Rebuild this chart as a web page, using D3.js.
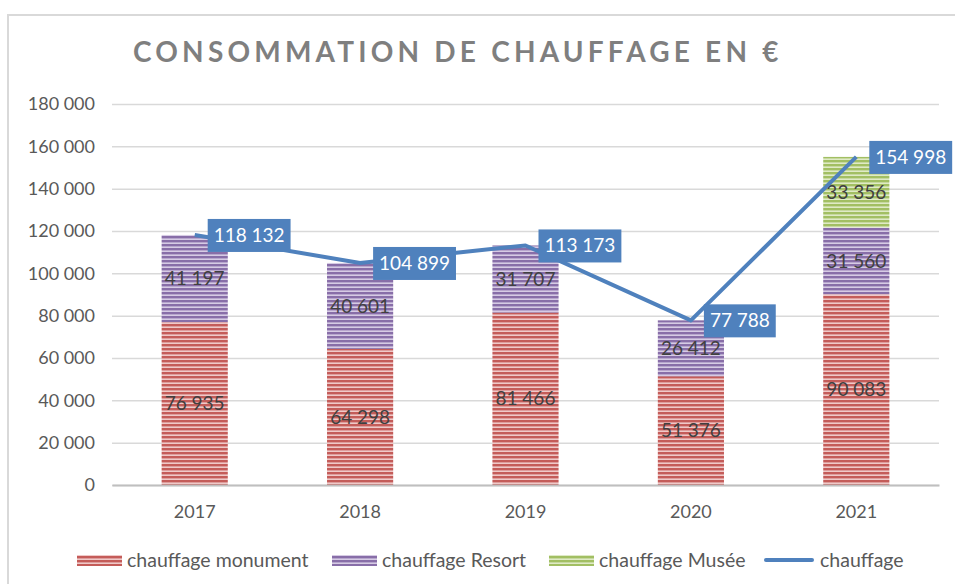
<!DOCTYPE html>
<html>
<head>
<meta charset="utf-8">
<script src="https://cdn.jsdelivr.net/npm/d3@7"></script>
<style>
  body { margin: 0; background: #fff; }
  svg { display: block; font-family: Lato, "Noto Sans", sans-serif; }
</style>
</head>
<body>
<div id="chart"></div>
<script>
// data
const years = ['2017', '2018', '2019', '2020', '2021'];
const monument = [76935, 64298, 81466, 51376, 90083];
const resort = [41197, 40601, 31707, 26412, 31560];
const musee = [0, 0, 0, 0, 33356];
const total = [118132, 104899, 113173, 77788, 154998];
const yTicks = [0, 20000, 40000, 60000, 80000, 100000, 120000, 140000, 160000, 180000];

const seriesNames = ['chauffage monument', 'chauffage Resort', 'chauffage Musée'];
const seriesKeys = ['monument', 'resort', 'musee'];

const width = 955, height = 584;
const margin = { top: 104, right: 15, bottom: 99, left: 112 };
const innerWidth = 939 - margin.left;
const innerHeight = 485 - margin.top;

const locale = d3.formatLocale({ decimal: ',', thousands: '\u202f', grouping: [3], currency: ['', ' €'] });
const fmt = locale.format(',d');

const rows = years.map((y, i) => ({ year: y, monument: monument[i], resort: resort[i], musee: musee[i], total: total[i] }));

const svg = d3.select('#chart').append('svg')
    .attr('width', width)
    .attr('height', height);

// striped fills like the Excel pattern
const fills = [
    { id: 'p-red', base: '#c0504d', light: '#efc9c8' },
    { id: 'p-purple', base: '#8064a2', light: '#d6cbe4' },
    { id: 'p-green', base: '#9bbb59', light: '#dfeac6' }
];
const defs = svg.append('defs');
fills.forEach(f => {
    const p = defs.append('pattern')
        .attr('id', f.id)
        .attr('patternUnits', 'userSpaceOnUse')
        .attr('width', 8).attr('height', 4);
    p.append('rect').attr('width', 8).attr('height', 4).attr('fill', f.light);
    p.append('rect').attr('width', 8).attr('height', 2.4).attr('fill', f.base).attr('opacity', 0.9);
});

// outer chart border
svg.append('path')
    .attr('d', `M8,${height} V15 H${width}`)
    .attr('fill', 'none')
    .attr('stroke', '#d9d9d9')
    .attr('stroke-width', 2);

// title
svg.append('text')
    .attr('x', 133)
    .attr('y', 62)
    .attr('fill', '#7f7f7f')
    .style('font-size', '28px')
    .style('font-weight', 'bold')
    .style('letter-spacing', '4.2px')
    .text('CONSOMMATION DE CHAUFFAGE EN €');

const g = svg.append('g')
    .attr('transform', `translate(${margin.left},${margin.top})`);

const x = d3.scaleBand()
    .domain(years)
    .range([0, innerWidth])
    .paddingInner(0.6)
    .paddingOuter(0.3);

const yScale = d3.scaleLinear()
    .domain([0, 180000])
    .range([innerHeight, 0]);

// grid lines
g.append('g')
    .attr('class', 'grid')
    .call(d3.axisLeft(yScale).tickValues(yTicks).tickSize(-innerWidth).tickFormat(''))
    .call(s => s.select('.domain').remove())
    .call(s => s.selectAll('line').attr('stroke', '#d9d9d9').attr('stroke-width', 1.5));

// y axis labels
g.append('g')
    .attr('class', 'y-axis')
    .call(d3.axisLeft(yScale).tickValues(yTicks).tickSize(0).tickPadding(17).tickFormat(fmt))
    .call(s => s.select('.domain').remove())
    .call(s => s.selectAll('text').attr('fill', '#595959').style('font-size', '18px').style('font-family', 'Lato, sans-serif'));

// stacked bars
const stack = d3.stack().keys(seriesKeys)(rows);
const layer = g.selectAll('.layer')
    .data(stack)
    .enter()
    .append('g')
    .attr('class', 'layer')
    .attr('fill', (d, i) => `url(#${fills[i].id})`);

layer.selectAll('rect')
    .data(d => d.filter(s => s[1] - s[0] > 0))
    .enter()
    .append('rect')
    .attr('x', d => x(d.data.year))
    .attr('y', d => yScale(d[1]))
    .attr('width', x.bandwidth())
    .attr('height', d => yScale(d[0]) - yScale(d[1]));

// x axis
g.append('g')
    .attr('class', 'x-axis')
    .attr('transform', `translate(0,${innerHeight})`)
    .call(d3.axisBottom(x).tickSize(0).tickPadding(20))
    .call(s => s.select('.domain').attr('stroke', '#bfbfbf').attr('stroke-width', 2))
    .call(s => s.selectAll('text').attr('fill', '#595959').style('font-size', '18px').style('font-family', 'Lato, sans-serif'));

// value labels inside segments
layer.selectAll('.seg-label')
    .data(d => d.filter(s => s[1] - s[0] > 0))
    .enter()
    .append('text')
    .attr('class', 'seg-label')
    .attr('x', d => x(d.data.year) + x.bandwidth() / 2)
    .attr('y', d => yScale((d[0] + d[1]) / 2))
    .attr('dy', '0.35em')
    .attr('text-anchor', 'middle')
    .attr('fill', '#404040')
    .style('font-size', '19px')
    .text(d => fmt(d[1] - d[0]));

// total line
const cx = d => x(d.year) + x.bandwidth() / 2;
const line = d3.line()
    .x(cx)
    .y(d => yScale(d.total));

g.append('path')
    .datum(rows)
    .attr('fill', 'none')
    .attr('stroke', '#4f81bd')
    .attr('stroke-width', 4)
    .attr('stroke-linejoin', 'round')
    .attr('d', line);

// total labels in blue boxes
const tl = g.selectAll('.tot-label')
    .data(rows)
    .enter()
    .append('g')
    .attr('class', 'tot-label')
    .attr('transform', d => `translate(${cx(d) + 13},${yScale(d.total)})`);

tl.append('text')
    .attr('x', 6)
    .attr('dy', '0.35em')
    .attr('fill', '#ffffff')
    .style('font-size', '19px')
    .text(d => fmt(d.total));

tl.each(function () {
    const t = d3.select(this).select('text');
    const w = t.node().getComputedTextLength();
    d3.select(this).insert('rect', 'text')
        .attr('x', 0)
        .attr('y', -16)
        .attr('width', w + 12)
        .attr('height', 33)
        .attr('fill', '#4f81bd');
});

// legend
const legendItems = [
    { name: seriesNames[0], fill: 'url(#p-red)', x: 77 },
    { name: seriesNames[1], fill: 'url(#p-purple)', x: 332 },
    { name: seriesNames[2], fill: 'url(#p-green)', x: 549 },
    { name: 'chauffage', line: '#4f81bd', x: 764 }
];
const legend = svg.append('g').attr('class', 'legend');
legendItems.forEach(it => {
    const li = legend.append('g').attr('transform', `translate(${it.x},560)`);
    if (it.line) {
        li.append('line')
            .attr('x1', 2).attr('x2', 48)
            .attr('y1', 0).attr('y2', 0)
            .attr('stroke', it.line)
            .attr('stroke-width', 4)
            .attr('stroke-linecap', 'round');
    } else {
        li.append('rect')
            .attr('x', 0).attr('y', -5)
            .attr('width', 45).attr('height', 11)
            .attr('fill', it.fill);
    }
    li.append('text')
        .attr('x', it.line ? 56 : 50)
        .attr('dy', '0.35em')
        .attr('fill', '#595959')
        .style('font-size', '19.5px')
        .text(it.name);
});
</script>
</body>
</html>
